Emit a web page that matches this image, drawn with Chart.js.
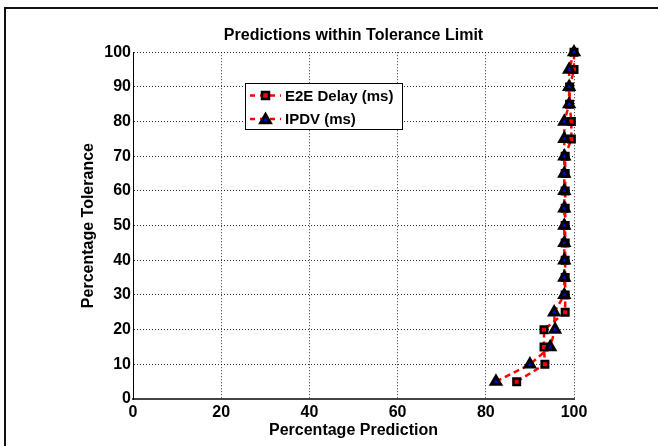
<!DOCTYPE html>
<html><head><meta charset="utf-8">
<script src="https://cdn.jsdelivr.net/npm/chart.js@4.4.0/dist/chart.umd.min.js"></script>
<style>
html,body{margin:0;padding:0;background:#fff;overflow:hidden;width:658px;height:446px;}
canvas{position:absolute;left:0;top:0;}
</style></head><body>
<canvas id="c" width="658" height="446"></canvas>
<script>
// ---- data ----
const tolerance = [5,10,15,20,25,30,35,40,45,50,55,60,65,70,75,80,85,90,95,100];
const e2eDelay  = [87,93.4,93.2,93.2,98,98,98,98,98,98,98,98,98,98,99.4,99.4,99,99,100,100];
const ipdv      = [82.3,90,94.6,95.7,95.5,97.8,97.8,97.8,97.8,97.8,97.8,97.8,97.8,97.8,97.8,97.8,98.9,98.9,98.9,100];
const xTicks = [0,20,40,60,80,100];
const yTicks = [0,10,20,30,40,50,60,70,80,90,100];
const seriesNames = ['E2E Delay (ms)', 'IPDV (ms)'];
const titleText = 'Predictions within Tolerance Limit';
const xTitle = 'Percentage Prediction';
const yTitle = 'Percentage Tolerance';

const FONT = '"Liberation Sans", Arial, Helvetica, sans-serif';
Chart.defaults.font.family = FONT;
Chart.defaults.color = '#000';

function drawSquare(ctx, x, y, side, bw) {
  ctx.save();
  ctx.setLineDash([]);
  ctx.fillStyle = '#ff0000'; ctx.strokeStyle = '#000'; ctx.lineWidth = bw;
  ctx.beginPath(); ctx.rect(x - side/2, y - side/2, side, side); ctx.fill(); ctx.stroke();
  ctx.restore();
}
function drawTri(ctx, x, y, r, bw) {
  ctx.save();
  ctx.setLineDash([]);
  ctx.fillStyle = '#0000ff'; ctx.strokeStyle = '#000'; ctx.lineWidth = bw; ctx.lineJoin = 'miter';
  ctx.beginPath();
  for (let k = 0; k < 3; k++) {
    const a = -Math.PI/2 + k * 2*Math.PI/3;
    const px = x + Math.cos(a)*r, py = y + Math.sin(a)*r;
    if (k === 0) ctx.moveTo(px, py); else ctx.lineTo(px, py);
  }
  ctx.closePath(); ctx.fill(); ctx.stroke();
  ctx.restore();
}

// outer figure frame (only its left and top edges fall inside the picture)
const framePlugin = {
  id: 'frame',
  beforeDraw(chart) {
    const ctx = chart.ctx;
    ctx.save();
    ctx.fillStyle = '#fff'; ctx.fillRect(0, 0, chart.width, chart.height);
    ctx.strokeStyle = '#111'; ctx.lineWidth = 2;
    ctx.beginPath(); ctx.moveTo(5, chart.height + 5); ctx.lineTo(5, 8); ctx.lineTo(chart.width + 5, 8); ctx.stroke();
    ctx.restore();
  }
};

const legendPlugin = {
  id: 'boxLegend',
  afterDraw(chart) {
    const {ctx, chartArea: a} = chart;
    const x = Math.round(a.left + 112), y = Math.round(a.top + 31), w = 157, h = 46;
    ctx.save();
    ctx.fillStyle = '#fff'; ctx.fillRect(x, y, w, h);
    ctx.strokeStyle = '#000'; ctx.lineWidth = 1; ctx.strokeRect(x + 0.5, y + 0.5, w, h);
    seriesNames.forEach((name, i) => {
      const cy = y + 12.5 + i * 23.5;
      ctx.save();
      ctx.strokeStyle = '#ff0000'; ctx.lineWidth = 2.5; ctx.setLineDash([5, 5]);
      ctx.beginPath(); ctx.moveTo(x + 5, cy); ctx.lineTo(x + 36, cy); ctx.stroke();
      ctx.restore();
      if (i === 0) drawSquare(ctx, x + 20.5, cy, 7, 2.5);
      else drawTri(ctx, x + 20.5, cy + 1, 5.5, 3);
      ctx.fillStyle = '#000';
      ctx.font = 'bold 15px ' + FONT;
      ctx.textBaseline = 'middle'; ctx.textAlign = 'left';
      ctx.fillText(name, x + 40, cy + 1);
    });
    ctx.restore();
  }
};

const gridColor = 'rgba(0,0,0,0.8)';
new Chart(document.getElementById('c'), {
  type: 'line',
  data: {
    datasets: [
      {
        label: seriesNames[0],
        data: tolerance.map((t, i) => ({x: e2eDelay[i], y: t})),
        borderColor: '#ff0000', borderWidth: 2.5, borderDash: [6, 4],
        pointStyle: 'rect', pointRadius: 4.6, pointBackgroundColor: '#ff0000',
        pointBorderColor: '#000', pointBorderWidth: 2.5, fill: false, tension: 0,
        order: 1, clip: false
      },
      {
        label: seriesNames[1],
        data: tolerance.map((t, i) => ({x: ipdv[i], y: t})),
        borderColor: '#ff0000', borderWidth: 2.5, borderDash: [6, 4],
        pointStyle: 'triangle', pointRadius: 5.3, pointBackgroundColor: '#0000ff',
        pointBorderColor: '#000', pointBorderWidth: 3, fill: false, tension: 0,
        order: 0, clip: false
      }
    ]
  },
  options: {
    responsive: false, animation: false, devicePixelRatio: 1,
    layout: {padding: {left: 0, right: 84, top: 0, bottom: 0}},
    plugins: {
      legend: {display: false}, tooltip: {enabled: false},
      title: {display: true, text: titleText, fullSize: false, color: '#000',
              font: {size: 16, weight: 'bold'}, padding: {top: 26, bottom: 7}}
    },
    scales: {
      x: {
        type: 'linear', min: 0, max: 100,
        afterFit: s => { s.height = 47; },
        afterBuildTicks: s => { s.ticks = xTicks.map(v => ({value: v})); },
        ticks: {font: {size: 16, weight: 'bold'}, color: '#000', padding: 4, maxRotation: 0},
        grid: {color: gridColor, lineWidth: 1, drawTicks: false},
        border: {display: true, color: '#444', width: 2, dash: [1, 2]},
        title: {display: true, text: xTitle, color: '#000', font: {size: 16, weight: 'bold'}, padding: {top: 0, bottom: 6}}
      },
      y: {
        type: 'linear', min: 0, max: 100,
        afterFit: s => { s.width = 133; },
        afterBuildTicks: s => { s.ticks = yTicks.map(v => ({value: v})); },
        ticks: {font: {size: 16, weight: 'bold'}, color: '#000', padding: 2},
        grid: {color: gridColor, lineWidth: 1, drawTicks: false},
        border: {display: true, color: '#000', width: 1, dash: [1, 2]},
        title: {display: true, text: yTitle, color: '#000', font: {size: 16, weight: 'bold'}, padding: {top: 79, bottom: 0}}
      }
    }
  },
  plugins: [framePlugin, legendPlugin]
});
</script>
</body></html>
